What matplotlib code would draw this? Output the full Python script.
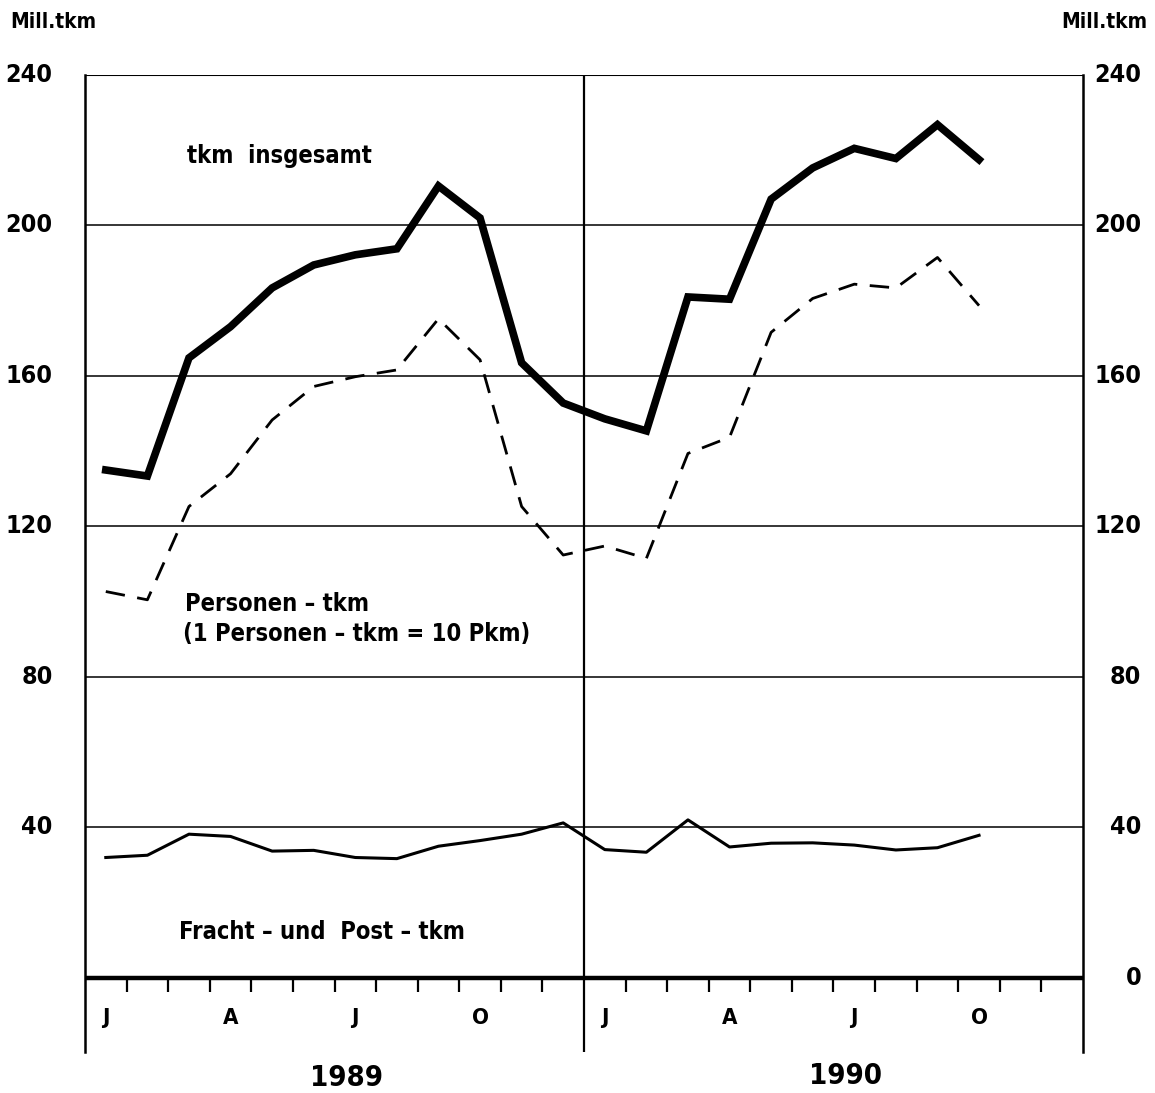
import numpy as np
import matplotlib
matplotlib.use("Agg")
import matplotlib.pyplot as plt

plt.rcParams['font.family'] = ['DejaVu Sans']
plt.rcParams['font.stretch'] = 'condensed'

# monthly values, Jan 1989 .. Oct 1990 (Mill. tkm)
insgesamt = [135.0, 133.4, 164.8, 173.1, 183.4, 189.5, 192.2, 193.8, 210.5, 202.0, 163.5, 152.8,
             148.6, 145.4, 181.0, 180.4, 207.0, 215.3, 220.5, 217.8, 226.8, 217.5]
personen = [102.7, 100.5, 125.3, 134.0, 148.3, 157.2, 159.8, 161.6, 175.2, 164.3, 125.3, 112.4,
            114.8, 111.5, 139.4, 143.7, 171.6, 180.6, 184.4, 183.4, 191.5, 178.7]
fracht = [32.0, 32.6, 38.2, 37.6, 33.7, 33.9, 32.0, 31.7, 35.0, 36.5, 38.2, 41.2,
          34.1, 33.4, 42.0, 34.8, 35.8, 35.9, 35.3, 34.0, 34.6, 37.9]
monat_labels = ['J', 'A', 'J', 'O', 'J', 'A', 'J', 'O']
monat_pos = [0, 3, 6, 9, 12, 15, 18, 21]
jahre = ['1989', '1990']
y_ticks = [40, 80, 120, 160, 200, 240]

x = np.arange(len(insgesamt)) + 0.5

fig = plt.figure(figsize=(11.55, 10.93), dpi=100)
ax = fig.add_axes([85/1155, 1-1052/1093, 998/1155, 977/1093])
ax.set_xlim(0, 24)
ax.set_ylim(-19.7, 240)

for y in [40, 80, 120, 160, 200]:
    ax.axhline(y, color='black', lw=1.1, zorder=1)
ax.axhline(240, color='black', lw=1.5, zorder=1)
ax.axhline(0, color='black', lw=3.2, zorder=3)
ax.axvline(12, color='black', lw=1.6, zorder=1)

# month ticks below the zero line
for i in range(1, 24):
    if i == 12:
        continue
    ax.plot([i, i], [0, -3.8], color='black', lw=1.6, solid_capstyle='butt')

ax.plot(x, insgesamt, color='black', lw=5.5, solid_joinstyle='miter', zorder=4)
ax.plot(x, personen, color='black', lw=2.0, dashes=(7, 4.5), zorder=4)
ax.plot(x, fracht, color='black', lw=2.2, zorder=4)

for spine in ['top', 'bottom']:
    ax.spines[spine].set_visible(False)
ax.spines['left'].set_linewidth(1.8)
ax.spines['right'].set_linewidth(1.8)
ax.set_xticks([])
ax.set_yticks([])

fs = 18
for y in y_ticks:
    ax.text(-0.78, y, str(y), ha='right', va='center', fontsize=fs, fontweight='bold')
for y in [0] + y_ticks:
    ax.text(25.4, y, str(y), ha='right', va='center', fontsize=fs, fontweight='bold')

for m, lab in zip(monat_pos, monat_labels):
    ax.text(m + 0.5, -10.6, lab, ha='center', va='center', fontsize=16, fontweight='bold')
ax.text(6.3, -26.5, jahre[0], ha='center', va='center', fontsize=21, fontweight='bold', clip_on=False)
ax.text(18.3, -26.0, jahre[1], ha='center', va='center', fontsize=21, fontweight='bold', clip_on=False)

fig.text(10/1155, 1-22/1093, 'Mill.tkm', ha='left', va='center', fontsize=15, fontweight='bold')
fig.text(1147/1155, 1-22/1093, 'Mill.tkm', ha='right', va='center', fontsize=15, fontweight='bold')

lfs = 17
ax.text(2.45, 218.5, 'tkm  insgesamt', ha='left', va='center', fontsize=lfs, fontweight='bold')
ax.text(2.4, 99.5, 'Personen – tkm', ha='left', va='center', fontsize=lfs, fontweight='bold')
ax.text(2.35, 91.5, '(1 Personen – tkm = 10 Pkm)', ha='left', va='center', fontsize=lfs, fontweight='bold')
ax.text(2.25, 12.2, 'Fracht – und  Post – tkm', ha='left', va='center', fontsize=lfs, fontweight='bold')

fig.savefig('out.png', dpi=100)
